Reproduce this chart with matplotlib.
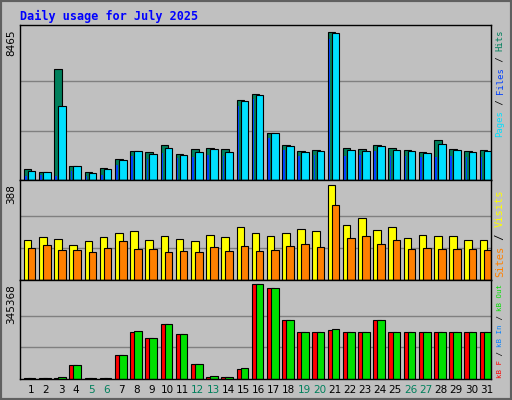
import matplotlib
matplotlib.use("Agg")
import matplotlib.pyplot as plt
import numpy as np

days = list(range(1, 32))
weekends = [5, 6, 12, 13, 19, 20, 26, 27]

hits = [613, 479, 6358, 823, 440, 670, 1187, 1647, 1590, 1992, 1475, 1762, 1820, 1762,
        4577, 4922, 2681, 1992, 1647, 1705, 8465, 1820, 1762, 1992, 1820, 1705, 1590,
        2279, 1762, 1647, 1705]
files = [498, 440, 4213, 785, 383, 613, 1130, 1647, 1475, 1820, 1417, 1590, 1762, 1590,
         4520, 4864, 2681, 1934, 1590, 1647, 8407, 1705, 1647, 1934, 1705, 1647, 1532,
         2049, 1705, 1590, 1647]
pages = [230, 268, 230, 498, 230, 268, 842, 1360, 1187, 1532, 1245, 1302, 1417, 1360,
         4232, 4634, 2394, 1705, 1360, 1417, 8082, 1360, 1417, 1647, 1360, 1360, 1302,
         1302, 1360, 1302, 1302]
visits = [161, 174, 165, 144, 157, 174, 190, 199, 161, 178, 165, 157, 182, 174,
          216, 190, 178, 190, 207, 199, 388, 224, 253, 203, 216, 169, 182, 178, 178, 161, 161]
sites = [132, 144, 123, 123, 115, 132, 157, 127, 127, 115, 119, 115, 136, 119,
         140, 119, 123, 140, 148, 136, 304, 169, 178, 148, 161, 127, 132, 127, 127, 127, 123]
kb_out = [2500, 2500, 8800, 50400, 2500, 5000, 88200, 175000, 148700, 201600, 163800,
          54200, 12600, 8800, 39000, 345368, 333900, 216700, 171400, 171400, 182700,
          171400, 171400, 216700, 171400, 171400, 171400, 171400, 171400, 171400, 171400]
kb_f = [2500, 2500, 2500, 50400, 2500, 3000, 88200, 171400, 148700, 201600, 163800,
        54200, 6000, 6000, 35000, 345368, 333900, 216700, 171400, 171400, 178000,
        171400, 171400, 216700, 171400, 171400, 171400, 171400, 171400, 171400, 171400]
kb_in = [1000] * 31

BG = "#C0C0C0"
W, H = 512, 400
fig = plt.figure(figsize=(W / 100, H / 100), dpi=100, facecolor=BG)
fig.patches.append(plt.Rectangle((0, 0), 1, 1, transform=fig.transFigure,
                                 fill=False, edgecolor="#606060", linewidth=3))
MONO = "DejaVu Sans Mono"


def px_axes(x0, y0, x1, y1):
    return fig.add_axes([x0 / W, 1 - y1 / H, (x1 - x0) / W, (y1 - y0) / H])


def style(ax, top, ymax_px_frac):
    ax.set_facecolor(BG)
    ax.set_xlim(0.35, 31.35)
    ax.set_ylim(0, top / ymax_px_frac)
    for f in (1 / 3, 2 / 3):
        ax.axhline(top * f, color="#808080", linewidth=1, zorder=0)
    ax.set_xticks([])
    ax.set_yticks([])
    for s in ax.spines.values():
        s.set_color("black")
        s.set_linewidth(1)


x = np.array(days, dtype=float)
bw = 0.5
kw = dict(align="edge", edgecolor="black", linewidth=0.8, zorder=2)

ax1 = px_axes(20, 25, 491, 180)
style(ax1, max(hits), 0.955)
ax1.bar(x - 0.4, hits, bw, color="#00805C", **kw)
ax1.bar(x - 0.32, pages, 0.1, color="#0040FF", align="edge", linewidth=0, zorder=3)
ax1.bar(x - 0.13, files, bw, color="#00E0FF", **kw)

ax2 = px_axes(20, 180, 491, 280)
style(ax2, max(visits), 0.955)
ax2.bar(x - 0.4, visits, bw, color="#FFFF00", **kw)
ax2.bar(x - 0.13, sites, bw, color="#FF8000", **kw)

ax3 = px_axes(20, 280, 491, 379)
style(ax3, max(kb_out), 0.955)
ax3.bar(x - 0.4, kb_f, bw, color="#FF0000", **kw)
ax3.bar(x - 0.13, kb_out, bw, color="#00E000", **kw)
ax3.bar(x - 0.38, kb_in, 0.08, color="#0080FF", align="edge", linewidth=0, zorder=3)

for d in days:
    ax3.text(d + 0.05, -0.06, str(d), transform=ax3.get_xaxis_transform(),
             ha="center", va="top", fontsize=7.5,
             color="#00805C" if d in weekends else "black")

fig.text(20 / W, 1 - 16 / H, "Daily usage for July 2025", family=MONO,
         fontweight="bold", color="#0000FF", fontsize=8.5, va="center")

for top_px, val in [(29, max(hits)), (184, max(visits)), (284, max(kb_out))]:
    fig.text(11 / W, 1 - top_px / H, str(val), rotation=90, ha="center",
             va="top", fontsize=7.5, color="black")


def side_label(y_bottom_px, y_top_px, parts):
    n = sum(len(t) for t, _ in parts)
    cw = (y_bottom_px - y_top_px) / n
    fs = min(7.5, cw / (0.602 * 100 / 72))
    cw = fs * 0.602 * 100 / 72
    y = y_bottom_px
    for txt, col in parts:
        fig.text(500 / W, 1 - y / H, txt, rotation=90, family=MONO, fontsize=fs,
                 color=col, ha="center", va="bottom")
        y -= cw * len(txt)


side_label(137, 30, [("Pages", "#00E0FF"), (" / ", "black"), ("Files", "#0040FF"),
                     (" / ", "black"), ("Hits", "#00805C")])
side_label(277, 182, [("Sites", "#FF8000"), (" / ", "black"), ("Visits", "#FFFF00")])
side_label(378, 284, [("kB F", "#FF0000"), (" / ", "black"), ("kB In", "#0080FF"),
                      (" / ", "black"), ("kB Out", "#00E000")])

fig.savefig("out.png", dpi=100, facecolor=BG)
